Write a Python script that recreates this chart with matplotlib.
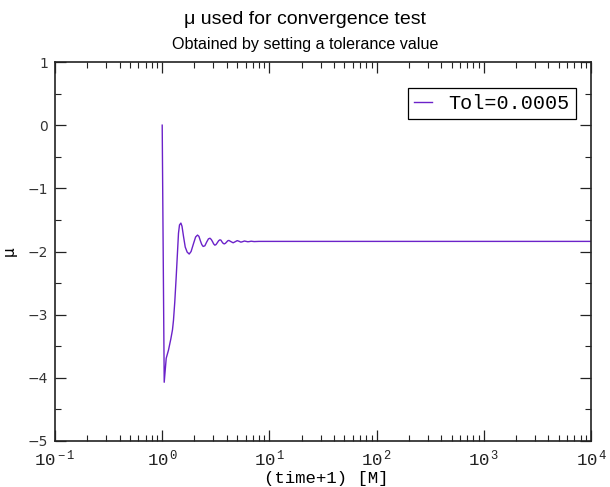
import matplotlib
matplotlib.use("Agg")
import matplotlib.pyplot as plt
from matplotlib.ticker import LogLocator, MultipleLocator, NullFormatter, FuncFormatter
import math

# Data
t_plus_1 = [1.0, 1.044, 1.090, 1.145, 1.205, 1.247, 1.274, 1.31, 1.351, 1.385, 1.419,
            1.45, 1.494, 1.53, 1.58, 1.64, 1.71, 1.786, 1.86, 1.955, 2.05, 2.135,
            2.20, 2.27, 2.34, 2.41, 2.50, 2.60, 2.70, 2.79, 2.87, 2.95, 3.02, 3.10,
            3.18, 3.27, 3.36, 3.45, 3.53, 3.62, 3.70, 3.79, 3.89, 3.99, 4.09, 4.19,
            4.39, 4.59, 4.80, 5.01, 5.21, 5.42, 5.63, 5.85, 6.07, 6.30, 6.53, 6.76,
            6.98, 7.21, 8.0, 10.0, 100.0, 1000.0, 10000.0]
mu = [0.0, -4.07, -3.69, -3.56, -3.38, -3.24, -3.09, -2.80, -2.40, -2.05, -1.71,
      -1.58, -1.55, -1.60, -1.76, -1.93, -2.01, -2.04, -2.00, -1.88, -1.77, -1.74,
      -1.76, -1.83, -1.89, -1.92, -1.91, -1.85, -1.80, -1.79, -1.81, -1.845, -1.88, -1.90,
      -1.89, -1.86, -1.83, -1.815, -1.82, -1.85, -1.87, -1.88, -1.87, -1.85, -1.83, -1.825,
      -1.845, -1.862, -1.845, -1.828, -1.838, -1.852, -1.844, -1.834, -1.840, -1.846, -1.842, -1.837,
      -1.840, -1.843, -1.840, -1.840, -1.840, -1.840, -1.840]
series_label = "Tol=0.0005"
title = "\u03bc used for convergence test"
subtitle = "Obtained by setting a tolerance value"
xlabel = "(time+1) [M]"
ylabel = "\u03bc"

plt.rcParams['mathtext.fontset'] = 'custom'
plt.rcParams['mathtext.rm'] = 'Liberation Mono'
plt.rcParams['mathtext.it'] = 'Liberation Mono'
plt.rcParams['mathtext.default'] = 'regular'

fig = plt.figure(figsize=(6.10, 4.87), dpi=100)
ax = fig.add_axes([55/610, 46/487, 536/610, 379/487])

line_color = '#6b22c9'
ax.plot(t_plus_1, mu, color=line_color, lw=1.0, label=series_label)

ax.set_xscale('log')
ax.set_xlim(0.1, 1e4)
ax.set_ylim(-5, 1)


def log_fmt(v, pos):
    e = int(round(math.log10(v)))
    return r"$10^{\,%d}$" % e


ax.xaxis.set_major_locator(LogLocator(base=10, numticks=10))
ax.xaxis.set_major_formatter(FuncFormatter(log_fmt))
ax.xaxis.set_minor_locator(LogLocator(base=10, subs=range(2, 10), numticks=100))
ax.xaxis.set_minor_formatter(NullFormatter())
ax.yaxis.set_major_locator(MultipleLocator(1))
ax.yaxis.set_minor_locator(MultipleLocator(0.5))

ax.tick_params(which='both', direction='in', top=True, right=True, colors='#222222')
ax.tick_params(which='major', length=8, width=0.9)
ax.tick_params(which='minor', length=4, width=0.8)
ax.tick_params(axis='x', which='major', pad=5, labelsize=12.5)
ax.tick_params(axis='y', which='major', pad=5, labelsize=10)

for lab in ax.get_xticklabels():
    lab.set_fontfamily('Liberation Mono')
for lab in ax.get_yticklabels():
    lab.set_fontfamily('DejaVu Sans')
    lab.set_color('#333333')

for sp in ax.spines.values():
    sp.set_linewidth(1.2)
    sp.set_color('#222222')

fig.text(326/610, 1 - 478/487, xlabel, ha='center', va='center',
         fontfamily='Liberation Mono', fontsize=12.5)
ax.set_ylabel(ylabel, fontfamily='DejaVu Sans', fontsize=11, labelpad=8)

fig.text(0.5, 1 - 19/487, title, ha='center', va='center',
         fontfamily='Liberation Sans', fontsize=14)
fig.text(0.5, 1 - 44/487, subtitle, ha='center', va='center',
         fontfamily='Liberation Sans', fontsize=11.6)

leg = ax.legend(loc='upper right', bbox_to_anchor=(0.972, 0.931),
                prop={'family': 'Liberation Mono', 'size': 14.5},
                fancybox=False, framealpha=1, edgecolor='black',
                handlelength=0.85, handletextpad=0.85, borderpad=0.3,
                borderaxespad=0)
leg.get_frame().set_linewidth(0.9)

fig.savefig('out.png', dpi=100)
